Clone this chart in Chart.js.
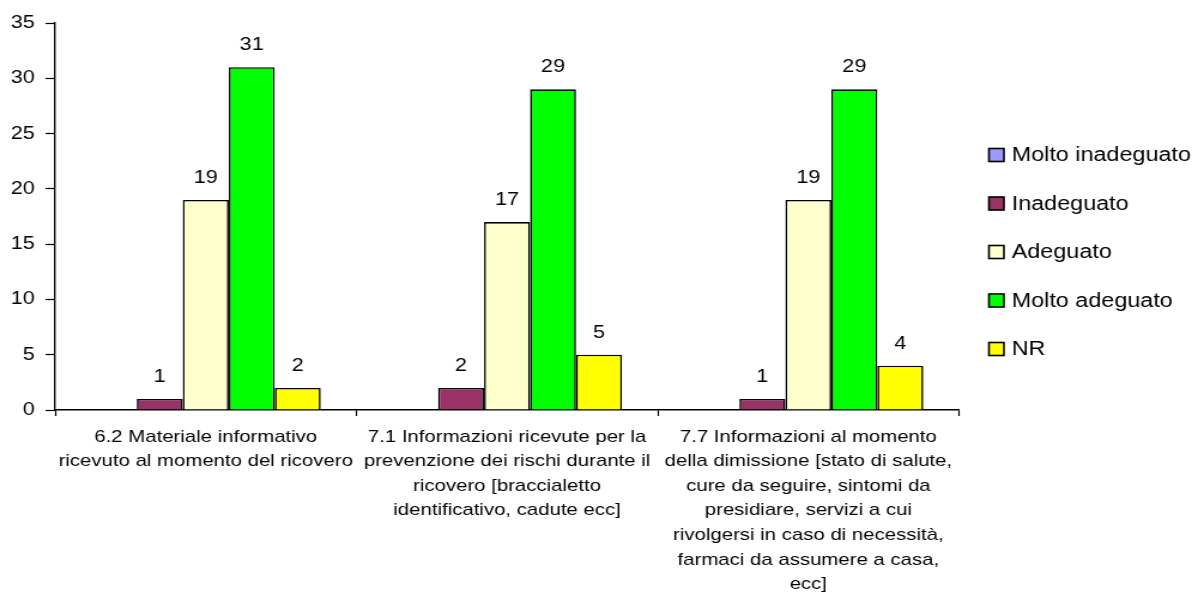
<!DOCTYPE html>
<html>
<head>
<meta charset="utf-8">
<script src="https://cdn.jsdelivr.net/npm/chart.js@4.4.1/dist/chart.umd.min.js"></script>
<style>
  html, body { margin: 0; padding: 0; background: #fff; }
  #chart { display: block; }
</style>
</head>
<body>
<!-- drawn 1000 wide and widened by css, the old office-chart look -->
<canvas id="chart" width="1000" height="594" style="width:1198px;height:594px"></canvas>
<script>
const categories = [
  ['6.2 Materiale informativo', 'ricevuto al momento del ricovero'],
  ['7.1 Informazioni ricevute per la', 'prevenzione dei rischi durante il', 'ricovero [braccialetto', 'identificativo, cadute ecc]'],
  ['7.7 Informazioni al momento', 'della dimissione [stato di salute,', 'cure da seguire, sintomi da', 'presidiare, servizi a cui', 'rivolgersi in caso di necessità,', 'farmaci da assumere a casa,', 'ecc]']
];
const seriesNames = ['Molto inadeguato', 'Inadeguato', 'Adeguato', 'Molto adeguato', 'NR'];
const moltoInadeguato = [0, 0, 0];
const inadeguato = [1, 2, 1];
const adeguato = [19, 17, 19];
const moltoAdeguato = [31, 29, 29];
const nr = [2, 5, 4];
const seriesColors = ['#9999FF', '#993366', '#FFFFCC', '#00FF00', '#FFFF00'];
const yMax = 35;
const yStep = 5;

const FONT = 'Arial, "Liberation Sans", sans-serif';

const seriesValues = [moltoInadeguato, inadeguato, adeguato, moltoAdeguato, nr];

// numbers above the bars (zeros are left out)
const barValues = {
  id: 'barValues',
  afterDatasetsDraw(chart) {
    const ctx = chart.ctx;
    ctx.save();
    ctx.font = '18px ' + FONT;
    ctx.fillStyle = '#000';
    ctx.textAlign = 'center';
    ctx.textBaseline = 'middle';
    chart.data.datasets.forEach((ds, i) => {
      chart.getDatasetMeta(i).data.forEach((bar, j) => {
        const v = ds.data[j];
        if (!v) return;
        ctx.fillText(String(v), bar.x, bar.y - 22);
      });
    });
    ctx.restore();
  }
};

// legend on the right, one series per row
const sideLegend = {
  id: 'sideLegend',
  afterDraw(chart) {
    const ctx = chart.ctx;
    const x = 825.5;
    const top = 155;
    const step = 48.5;
    ctx.save();
    ctx.font = '19.5px ' + FONT;
    ctx.textBaseline = 'middle';
    ctx.textAlign = 'left';
    chart.data.datasets.forEach((ds, i) => {
      const y = top + i * step;
      ctx.fillStyle = ds.backgroundColor;
      ctx.fillRect(x, y - 6.5, 12.5, 13);
      ctx.strokeStyle = '#000';
      ctx.lineWidth = 1.6;
      ctx.strokeRect(x, y - 6.5, 12.5, 13);
      ctx.fillStyle = '#000';
      ctx.fillText(ds.label, x + 19, y + 1);
    });
    ctx.restore();
  }
};

new Chart(document.getElementById('chart'), {
  type: 'bar',
  data: {
    labels: categories,
    datasets: seriesNames.map((name, i) => ({
      label: name,
      data: seriesValues[i],
      backgroundColor: seriesColors[i],
      borderColor: '#000',
      borderWidth: 1.6,
      barPercentage: 1,
      categoryPercentage: 0.763
    }))
  },
  options: {
    responsive: false,
    animation: false,
    layout: { padding: { top: 23, right: 199.5, left: 0, bottom: 0 } },
    plugins: {
      legend: { display: false },
      tooltip: { enabled: false }
    },
    scales: {
      x: {
        grid: {
          display: true,
          drawOnChartArea: false,
          offset: true,
          color: '#000',
          tickLength: 6,
          tickWidth: 1.2
        },
        border: { color: '#000', width: 1.4 },
        ticks: {
          color: '#000',
          font: { family: FONT, size: 17, lineHeight: 1.45 },
          padding: 8.5,
          maxRotation: 0,
          autoSkip: false
        },
        afterFit(scale) { scale.height = 184; }
      },
      y: {
        min: 0,
        max: yMax,
        grid: {
          drawOnChartArea: false,
          color: '#000',
          tickLength: 8,
          tickWidth: 1.2
        },
        border: { color: '#000', width: 1.4 },
        ticks: {
          stepSize: yStep,
          color: '#000',
          font: { family: FONT, size: 18 },
          padding: 9
        },
        afterFit(scale) { scale.width = 46; }
      }
    }
  },
  plugins: [barValues, sideLegend]
});
</script>
</body>
</html>
